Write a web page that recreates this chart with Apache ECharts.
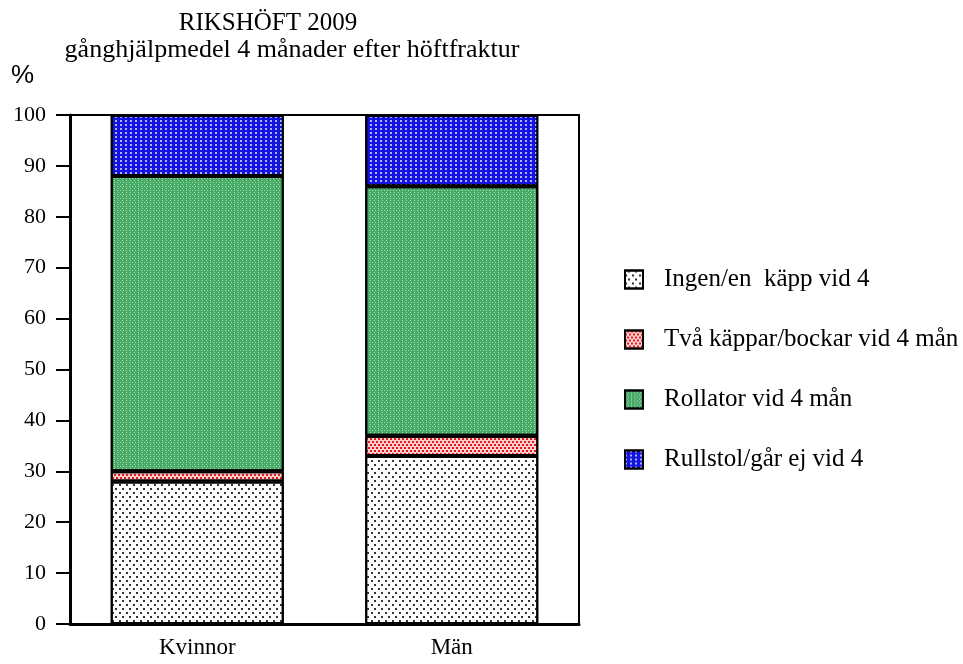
<!DOCTYPE html>
<html>
<head>
<meta charset="utf-8">
<script src="https://cdn.jsdelivr.net/npm/echarts@6/dist/echarts.min.js"></script>
<style>
  html, body { margin: 0; padding: 0; background: #fff; }
  #chart { width: 963px; height: 664px; }
</style>
</head>
<body>
<div id="chart"></div>
<script>
const categories = ["Kvinnor", "Män"];
const seriesNames = [
  "Ingen/en  käpp vid 4",
  "Två käppar/bockar vid 4 mån",
  "Rollator vid 4 mån",
  "Rullstol/går ej vid 4",
];
const ingenValues = [28, 33];
const tvaValues = [2, 4];
const rollatorValues = [58, 49];
const rullstolValues = [12, 14];
const yTicks = [0, 100, 10];

const serif = "Liberation Serif";

const looks = [
  {
    color: "#ffffff",
    decal: { symbol: "rect", symbolSize: 1, color: "#333", dashArrayX: [[1.5, 4.5], [0, 3, 1.5, 1.5]], dashArrayY: [1.5, 1.5] },
  },
  {
    color: "#ffd0d0",
    decal: { symbol: "rect", symbolSize: 1, color: "#e41a1a", dashArrayX: [[1.5, 1.5], [0, 1.5, 1.5, 0]], dashArrayY: [1.5, 1] },
  },
  {
    color: "#45aa64",
    decal: { symbol: "rect", symbolSize: 1, color: "rgba(255,255,255,0.55)", dashArrayX: [[1, 1.5], [0, 1.25, 1, 0.25]], dashArrayY: [1, 0.8] },
  },
  {
    color: "#1414e0",
    decal: { symbol: "rect", symbolSize: 1, color: "rgba(230,230,255,0.75)", dashArrayX: [1.5, 2.5], dashArrayY: [1.5, 1.5] },
  },
];

const valueLists = [ingenValues, tvaValues, rollatorValues, rullstolValues];

const chart = echarts.init(document.querySelector("#chart"));

chart.setOption({
  animation: false,
  textStyle: { fontFamily: serif, color: "#000" },
  title: [
    {
      text: "RIKSHÖFT 2009",
      left: 263,
      top: 6,
      textAlign: "center",
      textStyle: { fontFamily: serif, fontWeight: "normal", fontSize: 25, color: "#000" },
    },
    {
      text: "gånghjälpmedel 4 månader efter höftfraktur",
      left: 287,
      top: 32,
      textAlign: "center",
      textStyle: { fontFamily: serif, fontWeight: "normal", fontSize: 26, color: "#000" },
    },
  ],
  graphic: [
    {
      type: "text",
      left: 11,
      top: 63,
      style: { text: "%", font: "26px 'Liberation Sans'", fill: "#000" },
    },
  ],
  legend: {
    orient: "vertical",
    left: 619,
    top: 262,
    itemWidth: 18,
    itemHeight: 18,
    itemGap: 35,
    icon: "rect",
    textStyle: { fontFamily: serif, fontSize: 25, color: "#000", padding: [0, 0, 0, 16] },
    data: seriesNames,
  },
  grid: {
    left: 70,
    right: 384,
    top: 115,
    bottom: 40,
    show: true,
    borderColor: "#000",
    borderWidth: 2,
    backgroundColor: "transparent",
  },
  xAxis: {
    type: "category",
    data: categories,
    axisLine: { lineStyle: { color: "#000", width: 3 } },
    axisTick: { alignWithLabel: true, length: 10, lineStyle: { color: "#000", width: 2 } },
    axisLabel: { fontFamily: serif, fontSize: 23, color: "#000", margin: 12 },
  },
  yAxis: {
    type: "value",
    min: yTicks[0],
    max: yTicks[1],
    interval: yTicks[2],
    axisLine: { show: true, lineStyle: { color: "#000", width: 3 } },
    axisTick: { show: true, length: 14, lineStyle: { color: "#000", width: 2 } },
    axisLabel: { fontFamily: serif, fontSize: 22, color: "#000", margin: 24 },
    splitLine: { show: false },
  },
  series: seriesNames.map((name, i) => ({
    name: name,
    type: "bar",
    stack: "total",
    barWidth: "68%",
    data: valueLists[i],
    itemStyle: {
      color: looks[i].color,
      borderColor: "#000",
      borderWidth: 2,
      decal: looks[i].decal,
    },
  })),
});
</script>
</body>
</html>
